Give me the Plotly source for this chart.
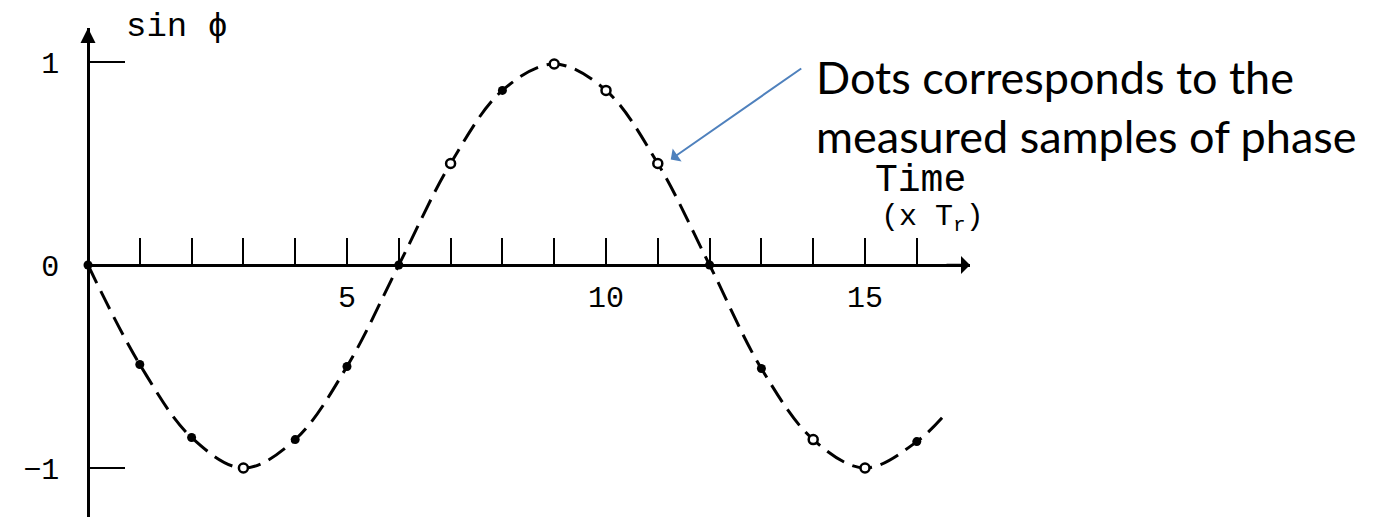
import plotly.graph_objects as go

# ---- data ----
sample_t = [0, 1, 2, 3, 4, 5, 6, 7, 8, 9, 10, 11, 12, 13, 14, 15, 16]
sample_sin = [0.0, -0.49, -0.85, -1.0, -0.86, -0.50, 0.0, 0.50, 0.86, 0.99,
              0.86, 0.50, 0.0, -0.51, -0.86, -1.0, -0.87]
sample_hollow = [False, False, False, True, False, False, False, True, False, True,
                 True, True, False, False, True, True, False]
curve_end_t = [16.6]
curve_end_sin = [-0.72]

x_ticks = list(range(1, 17))
x_tick_labels = {5: "5", 10: "10", 15: "15"}
y_ticks = [-1, 0, 1]
y_tick_labels = ["\u22121", "0", "1"]

annotation_text = "Dots corresponds to the<br>measured samples of phase"

W, H = 1373, 517
ORIGIN_X, ORIGIN_Y = 88, 265
PX_X, PX_Y = 51.8, 203.0
X_END, Y_TOP = 970, 28

fig = go.Figure()

# dashed sine curve through the samples
fig.add_trace(go.Scatter(
    x=sample_t + curve_end_t, y=sample_sin + curve_end_sin,
    mode="lines", line=dict(color="black", width=3, dash="20px,9px", shape="spline", smoothing=1.0),
    hoverinfo="skip", showlegend=False, cliponaxis=False))

# filled and hollow sample dots
filled_t = [t for t, h in zip(sample_t, sample_hollow) if not h]
filled_v = [v for v, h in zip(sample_sin, sample_hollow) if not h]
hollow_t = [t for t, h in zip(sample_t, sample_hollow) if h]
hollow_v = [v for v, h in zip(sample_sin, sample_hollow) if h]
fig.add_trace(go.Scatter(x=filled_t, y=filled_v, mode="markers",
                         marker=dict(symbol="circle", size=9, color="black"),
                         showlegend=False, cliponaxis=False))
fig.add_trace(go.Scatter(x=hollow_t, y=hollow_v, mode="markers",
                         marker=dict(symbol="circle", size=9, color="white",
                                     line=dict(color="black", width=2.5)),
                         showlegend=False, cliponaxis=False))

HAND = "Liberation Mono"
hand_font = dict(family=HAND, size=30, color="black")

fig.update_layout(
    width=W, height=H, autosize=False,
    margin=dict(l=0, r=0, t=0, b=0),
    paper_bgcolor="white", plot_bgcolor="white",
    xaxis=dict(
        domain=[ORIGIN_X / W, X_END / W],
        range=[0, (X_END - ORIGIN_X) / PX_X],
        anchor="free", position=(H - ORIGIN_Y) / H,
        showline=True, linecolor="black", linewidth=2.5,
        ticks="inside", ticklen=26, tickwidth=2, tickcolor="black",
        tickvals=x_ticks, ticktext=[x_tick_labels.get(t, "") for t in x_ticks],
        tickfont=hand_font, ticklabelstandoff=4,
        showgrid=False, zeroline=False, fixedrange=True),
    yaxis=dict(
        domain=[0, (H - Y_TOP) / H],
        range=[-(H - ORIGIN_Y) / PX_Y, (ORIGIN_Y - Y_TOP) / PX_Y],
        anchor="free", position=ORIGIN_X / W,
        showline=True, linecolor="black", linewidth=2.5,
        ticks="inside", ticklen=35, tickwidth=2, tickcolor="black",
        tickvals=y_ticks, ticktext=y_tick_labels,
        tickfont=hand_font, ticklabelstandoff=22,
        showgrid=False, zeroline=False, fixedrange=True),
)

# axis arrowheads
fig.add_annotation(x=(X_END - ORIGIN_X) / PX_X, y=0, xref="x", yref="y", text="",
                   showarrow=True, arrowhead=1, arrowsize=1.2, arrowwidth=2.5,
                   arrowcolor="black", ax=-25, ay=0)
fig.add_annotation(x=0, y=(ORIGIN_Y - Y_TOP) / PX_Y, xref="x", yref="y", text="",
                   showarrow=True, arrowhead=2, arrowsize=1.2, arrowwidth=2.5,
                   arrowcolor="black", ax=0, ay=14)

# axis titles (hand lettering)
fig.add_annotation(x=124 / W, y=1 - 27 / H, xref="paper", yref="paper",
                   text="sin \u03d5", showarrow=False, xanchor="left", yanchor="middle",
                   font=dict(family=HAND, size=34, color="black"))
fig.add_annotation(x=920 / W, y=1 - 181 / H, xref="paper", yref="paper",
                   text="Time", showarrow=False, xanchor="center", yanchor="middle",
                   font=dict(family=HAND, size=38, color="black"))
fig.add_annotation(x=932 / W, y=1 - 218 / H, xref="paper", yref="paper",
                   text="(x T<sub>r</sub>)", showarrow=False, xanchor="center", yanchor="middle",
                   font=dict(family=HAND, size=30, color="black"))

# explanatory annotation with blue arrow to the sample at t = 11
fig.add_annotation(x=814 / W, y=1 - 106 / H, xref="paper", yref="paper",
                   text=annotation_text, showarrow=False, xanchor="left", yanchor="middle",
                   align="left",
                   font=dict(family="Lato", size=45, color="black"))
fig.add_annotation(x=sample_t[11] + 0.25, y=sample_sin[11] + 0.02, xref="x", yref="y",
                   text="", showarrow=True, arrowhead=1, arrowsize=1.3, arrowwidth=2,
                   arrowcolor="#4F81BD", ax=132, ay=-92)

fig.write_html("out.html", config={"displayModeBar": False},
               post_script="document.body.style.margin='0';document.body.style.overflow='hidden';")
